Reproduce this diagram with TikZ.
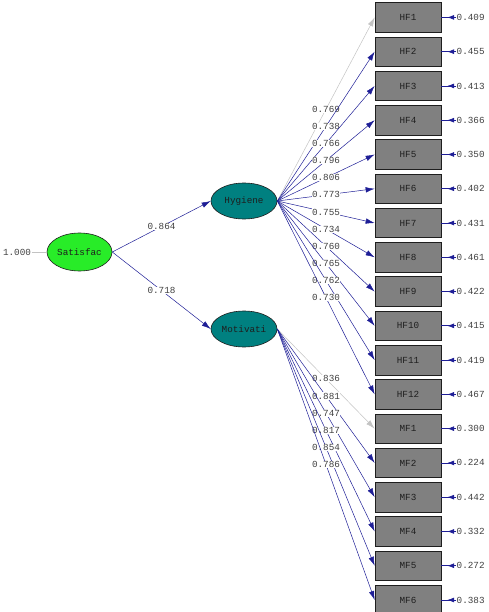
\documentclass[tikz,border=0pt]{standalone}
\usepackage{fontspec}
\setmonofont{Liberation Mono}
\usetikzlibrary{arrows.meta,shapes.geometric,decorations.markings}
\definecolor{pathblue}{RGB}{30,30,150}
\definecolor{fixedgrey}{RGB}{195,195,195}
\definecolor{latentteal}{RGB}{0,128,128}
\definecolor{rootgreen}{RGB}{40,236,40}
\definecolor{boxgrey}{RGB}{128,128,128}
\definecolor{inkdark}{RGB}{30,30,30}

\begin{document}
\begin{tikzpicture}[x=1pt,y=-1pt,
  font=\ttfamily\fontsize{9.3}{10}\selectfont,
  latent/.style={ellipse, draw=inkdark, line width=0.6pt, minimum width=66pt,
    minimum height=36pt, inner sep=0pt, text=inkdark},
  indicator/.style={rectangle, draw=inkdark, line width=0.7pt, fill=boxgrey,
    minimum width=66pt, minimum height=29.5pt, inner sep=0pt, text=inkdark},
  estimate/.style={fill=white, inner sep=0.4pt, text=inkdark!85},
  loading/.style={draw=pathblue, line width=0.5pt,
    -{Latex[length=9pt,width=5.5pt]}},
  fixedload/.style={draw=fixedgrey, line width=0.5pt,
    -{Latex[length=9pt,width=5.5pt]}},
  errarrow/.style={draw=pathblue, line width=0.7pt,
    postaction={decorate},
    decoration={markings, mark=at position 0.6 with
      {\arrow{Latex[length=7pt,width=5pt]}}}},
  errval/.style={anchor=west, inner sep=0.5pt, text=inkdark!85}
]
\useasboundingbox (0,0) rectangle (488,612);

% latent variables
\node[latent, fill=rootgreen, minimum width=65pt, minimum height=38pt] (sat) at (79.5,252) {Satisfac};
\node[latent, fill=latentteal] (hyg) at (244,201) {Hygiene};
\node[latent, fill=latentteal] (mot) at (244,329) {Motivati};

% variance of the exogenous factor
\node[inner sep=0.5pt, text=inkdark!85] (satvar) at (17,252) {1.000};
\draw[fixedgrey, line width=0.6pt] (satvar.east) -- (sat.west);

% observed indicators with their error variances
\foreach \n/\err [count=\i from 0] in
  {HF1/0.409, HF2/0.455, HF3/0.413, HF4/0.366, HF5/0.350, HF6/0.402,
   HF7/0.431, HF8/0.461, HF9/0.422, HF10/0.415, HF11/0.419, HF12/0.467,
   MF1/0.300, MF2/0.224, MF3/0.442, MF4/0.332, MF5/0.272, MF6/0.383}
{
  \node[indicator] (\n) at (408, 17.4+34.27*\i) {\n};
  \node[errval] (e\n) at (456, 17.4+34.27*\i) {\err};
  \draw[errarrow] (e\n.west) -- (\n.east);
}

% structural paths
\draw[loading] (sat.east) -- node[estimate] {0.864} (hyg.west);
\draw[loading] (sat.east) -- node[estimate] {0.718} (mot.west);

% hygiene factor loadings
\draw[fixedload] (hyg.east) -- node[estimate] {0.769} (HF1.west);
\foreach \n/\ld in {HF2/0.738, HF3/0.766, HF4/0.796, HF5/0.806, HF6/0.773,
  HF7/0.755, HF8/0.734, HF9/0.760, HF10/0.765, HF11/0.762, HF12/0.730}
  \draw[loading] (hyg.east) -- node[estimate] {\ld} (\n.west);

% motivation factor loadings
\draw[fixedload] (mot.east) -- node[estimate] {0.836} (MF1.west);
\foreach \n/\ld in {MF2/0.881, MF3/0.747, MF4/0.817, MF5/0.854, MF6/0.786}
  \draw[loading] (mot.east) -- node[estimate] {\ld} (\n.west);
\end{tikzpicture}
\end{document}
